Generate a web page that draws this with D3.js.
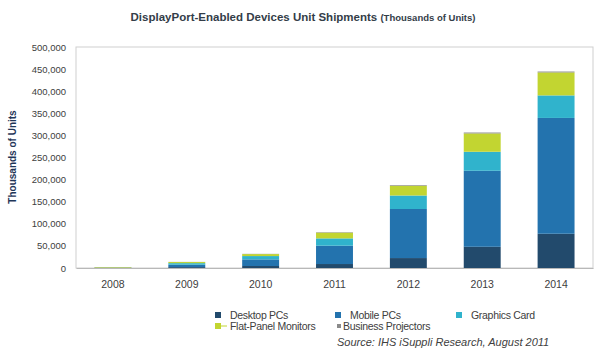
<!DOCTYPE html>
<html><head><meta charset="utf-8">
<script src="https://cdn.jsdelivr.net/npm/d3@7"></script>
<style>body{margin:0;background:#fff}svg{display:block;font-family:Arial,"Liberation Sans",sans-serif}</style>
</head><body>
<svg id="c" width="600" height="356"></svg>
<script>
const years = ["2008","2009","2010","2011","2012","2013","2014"];
const desktopPCs = [0.3, 2, 4.5, 9, 22.5, 48, 77.5];
const mobilePCs = [0.4, 5.5, 15, 41.5, 111, 172, 262];
const graphicsCard = [0.2, 3.5, 7.5, 16.5, 30.5, 43, 51];
const flatPanel = [1.2, 2.5, 4.5, 13, 22, 41.5, 52];
const businessProjectors = [0.1, 0.3, 0.5, 1, 1.5, 2, 2];
const seriesNames = ["Desktop PCs","Mobile PCs","Graphics Card","Flat-Panel Monitors","Business Projectors"];
const yTicks = [0,50000,100000,150000,200000,250000,300000,350000,400000,450000,500000];

const colors = ["#224a6c","#2373ae","#30b3cc","#c2d531","#8a8a8a"];
const seriesData = [desktopPCs, mobilePCs, graphicsCard, flatPanel, businessProjectors];
const rows = years.map((y,i)=>{const r={year:y}; seriesNames.forEach((n,k)=>r[n]=seriesData[k][i]*1000); return r;});
const stacked = d3.stack().keys(seriesNames)(rows);

const svg = d3.select("#c");
const L=76, R=593, T=47, B=268;
const x = d3.scaleBand().domain(years).range([L,R]).paddingInner(0.5).paddingOuter(0.25);
const y = d3.scaleLinear().domain([0,500000]).range([B,T]);

// frame
svg.append("rect").attr("x",L).attr("y",T).attr("width",R-L).attr("height",B-T)
  .attr("fill","none").attr("stroke","#cfcfcf").attr("stroke-width",1);

// bars
svg.append("g").selectAll("g").data(stacked).join("g").attr("fill",(d,i)=>colors[i])
  .selectAll("rect").data(d=>d).join("rect")
  .attr("x",d=>x(d.data.year)).attr("width",x.bandwidth())
  .attr("y",d=>y(d[1])).attr("height",d=>Math.max(0,y(d[0])-y(d[1])));

// axes
const yAxis = d3.axisLeft(y).tickValues(yTicks).tickSize(0).tickPadding(10).tickFormat(d3.format(","));
const gy = svg.append("g").attr("transform",`translate(${L},0)`).call(yAxis);
gy.select(".domain").remove();
gy.selectAll("text").attr("font-size","9.5px").attr("fill","#404040");

const xAxis = d3.axisBottom(x).tickSize(0).tickPadding(13);
const gx = svg.append("g").attr("transform",`translate(0,${B})`).call(xAxis);
gx.select(".domain").attr("stroke","#b8b8b8");
gx.selectAll("text").attr("font-size","10.5px").attr("fill","#404040");

// title
const title = svg.append("text").attr("x",303).attr("y",21).attr("text-anchor","middle")
  .attr("font-weight","bold").attr("fill","#333d48");
title.append("tspan").attr("font-size","11.5px").text("DisplayPort-Enabled Devices Unit Shipments ");
title.append("tspan").attr("font-size","9.5px").text("(Thousands of Units)");

// y label
svg.append("text").attr("transform","translate(16,157) rotate(-90)").attr("text-anchor","middle")
  .attr("font-size","10px").attr("font-weight","bold").attr("fill","#1f3658").text("Thousands of Units");

// legend
const leg = [
  {n:0,x:218,y:315},{n:1,x:338,y:315},{n:2,x:459,y:315},
  {n:3,x:218,y:326},{n:4,x:339,y:326}
];
const lg = svg.append("g");
leg.forEach(l=>{
  if(l.n===3){
    lg.append("line").attr("x1",l.x-3).attr("x2",l.x+9).attr("y1",l.y).attr("y2",l.y).attr("stroke",colors[3]).attr("stroke-width",1);
  }
  const s = l.n===4?4:6;
  lg.append("rect").attr("x",l.x-s/2).attr("y",l.y-s/2).attr("width",s).attr("height",s).attr("fill",colors[l.n]);
  lg.append("text").attr("x",l.n===4?l.x+4:l.x+12).attr("y",l.y+3.5).attr("font-size","10.5px").attr("fill","#404040")
    .attr("letter-spacing","-0.3px").text(seriesNames[l.n]);
});
svg.append("text").attr("x",337).attr("y",346).attr("font-size","11px").attr("font-style","italic")
  .attr("fill","#404040").text("Source: IHS iSuppli Research, August 2011");
</script>
</body></html>
